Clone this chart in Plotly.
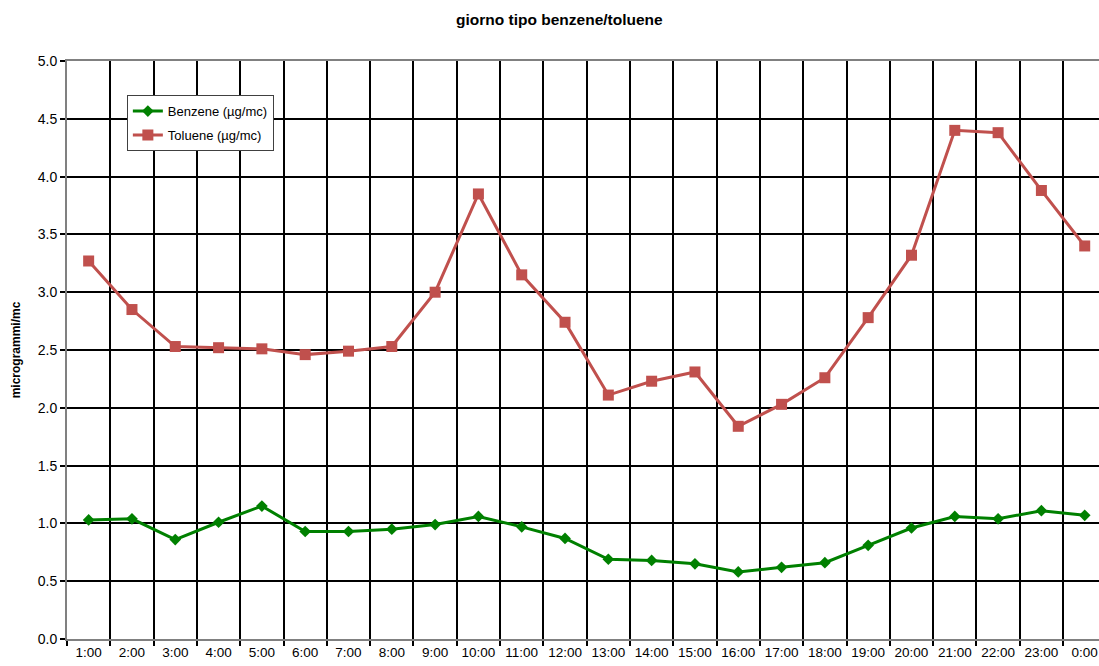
import plotly.graph_objects as go

hours = ["1:00", "2:00", "3:00", "4:00", "5:00", "6:00", "7:00", "8:00", "9:00", "10:00",
         "11:00", "12:00", "13:00", "14:00", "15:00", "16:00", "17:00", "18:00", "19:00",
         "20:00", "21:00", "22:00", "23:00", "0:00"]
benzene = [1.03, 1.04, 0.86, 1.01, 1.15, 0.93, 0.93, 0.95, 0.99, 1.06, 0.97, 0.87,
           0.69, 0.68, 0.65, 0.58, 0.62, 0.66, 0.81, 0.96, 1.06, 1.04, 1.11, 1.07]
toluene = [3.27, 2.85, 2.53, 2.52, 2.51, 2.46, 2.49, 2.53, 3.00, 3.85, 3.15, 2.74,
           2.11, 2.23, 2.31, 1.84, 2.03, 2.26, 2.78, 3.32, 4.40, 4.38, 3.88, 3.40]
yticks = [0.0, 0.5, 1.0, 1.5, 2.0, 2.5, 3.0, 3.5, 4.0, 4.5, 5.0]

FONT = "Liberation Sans, Arial, sans-serif"

fig = go.Figure()
fig.add_trace(go.Scatter(
    x=hours, y=benzene, name="Benzene (µg/mc)", mode="lines+markers",
    line=dict(color="#008000", width=3),
    marker=dict(symbol="diamond", size=9, color="#008000"),
    legendgroup="b",
))
fig.add_trace(go.Scatter(
    x=hours, y=toluene, name="Toluene (µg/mc)", mode="lines+markers",
    line=dict(color="#C0504D", width=3),
    marker=dict(symbol="square", size=11, color="#C0504D"),
    legendgroup="t",
))

fig.update_layout(
    width=1099, height=666,
    margin=dict(l=67, r=0, t=61, b=27, autoexpand=False),
    paper_bgcolor="white", plot_bgcolor="white",
    font=dict(family=FONT, color="black", size=13),
    title=dict(text="<b>giorno tipo benzene/toluene</b>", x=0.509, xanchor="center",
               y=0.97, yanchor="middle", font=dict(size=15.5, family=FONT, color="black")),
    showlegend=True,
    legend=dict(x=0.058, y=0.941, xanchor="left", yanchor="top",
                bgcolor="white", bordercolor="#404040", borderwidth=1,
                font=dict(size=13, family=FONT, color="black"),
                tracegroupgap=4, itemwidth=30),
)
fig.update_xaxes(
    type="category", categoryorder="array", categoryarray=hours,
    range=[-0.5, 23.33], tickson="boundaries", automargin=False, tickangle=0,
    showgrid=True, gridcolor="black", gridwidth=2,
    showline=True, linecolor="#808080", linewidth=2, mirror=True,
    ticks="outside", ticklen=5, tickcolor="black", tickwidth=2,
    tickfont=dict(size=13.5, family=FONT, color="black"),
    fixedrange=True,
)
fig.update_yaxes(
    range=[0, 5], tickvals=yticks, tickformat=".1f", automargin=False,
    showgrid=True, gridcolor="black", gridwidth=2, zeroline=False,
    showline=True, linecolor="#808080", linewidth=2,
    ticks="outside", ticklen=5, tickcolor="black", tickwidth=2,
    tickfont=dict(size=14, family=FONT, color="black"),
    title=dict(text="<b>microgrammi/mc</b>", font=dict(size=12, family=FONT, color="black")),
    fixedrange=True,
)

fig.write_html(
    "out.html",
    config={"displayModeBar": False, "staticPlot": True},
    post_script="document.body.style.margin='0';document.body.style.overflow='hidden';",
)
